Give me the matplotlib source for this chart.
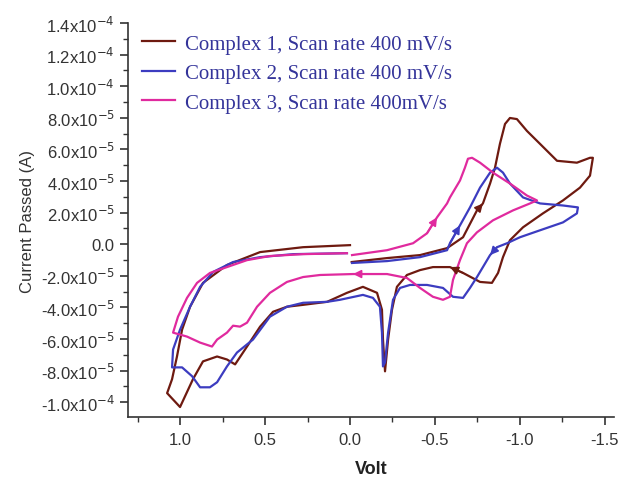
import matplotlib
matplotlib.use("Agg")
import matplotlib.pyplot as plt
from matplotlib.ticker import FuncFormatter, MultipleLocator

# Potential (V) and current (x1e-5 A)
volt_1 = [-0.01, -0.218, -0.412, -0.571, -0.665, -0.747, -0.782, -0.824, -0.853, -0.882,
          -0.912, -0.941, -0.982, -1.041, -1.118, -1.218, -1.335, -1.412, -1.429,
          -1.412, -1.353, -1.253, -1.135, -1.018, -0.941, -0.9, -0.871, -0.835, -0.765,
          -0.665, -0.588, -0.488, -0.412, -0.335, -0.276, -0.247, -0.224, -0.206, -0.194,
          -0.188, -0.159, -0.076, 0.018, 0.135, 0.276, 0.371, 0.453, 0.529, 0.606, 0.676,
          0.724, 0.782, 0.865, 0.924, 1.0, 1.076,
          1.047, 1.018, 0.988, 0.941, 0.865, 0.724, 0.529, 0.276, 0.0]
curr_1 = [-1.13, -0.88, -0.69, -0.25, 0.44, 2.14, 2.58, 3.84, 4.84, 6.35,
          7.61, 7.99, 7.92, 7.17, 6.35, 5.28, 5.16, 5.47, 5.47,
          4.34, 3.58, 2.77, 1.95, 1.07, 0.25, -0.82, -1.82, -2.45, -2.39,
          -1.82, -1.45, -1.45, -1.64, -1.95, -2.70, -4.15, -6.04, -8.05, -6.04,
          -4.15, -3.08, -2.70, -3.08, -3.65, -3.84, -3.96, -4.28, -5.22, -6.48, -7.61,
          -7.30, -7.11, -7.42, -8.55, -10.31, -9.43,
          -8.55, -7.11, -5.41, -3.96, -2.45, -1.32, -0.50, -0.19, -0.06]

volt_2 = [-0.012, -0.218, -0.412, -0.571, -0.588, -0.647, -0.706, -0.765, -0.824, -0.865,
          -0.9, -0.941, -1.018, -1.118, -1.253, -1.341,
          -1.335, -1.253, -1.118, -1.0, -0.924, -0.865, -0.824, -0.782, -0.747, -0.706,
          -0.665, -0.606, -0.547, -0.453, -0.353, -0.294, -0.253, -0.224, -0.206, -0.194,
          -0.188, -0.176, -0.135, -0.076, 0.059, 0.135, 0.276, 0.371, 0.471, 0.571,
          0.665, 0.724, 0.782, 0.824, 0.882, 0.929, 0.988, 1.047,
          1.041, 1.0, 0.941, 0.882, 0.806, 0.688, 0.529, 0.335, 0.018]
curr_2 = [-1.19, -1.07, -0.82, -0.38, 0.06, 1.19, 2.33, 3.58, 4.53, 4.84,
          4.53, 3.84, 2.96, 2.58, 2.45, 2.33,
          1.95, 1.38, 0.88, 0.44, 0.06, -0.19, -0.69, -1.45, -2.08, -2.77,
          -3.40, -3.33, -2.77, -2.58, -2.58, -2.77, -3.52, -5.60, -7.48, -7.74,
          -5.60, -3.96, -3.40, -3.21, -3.52, -3.65, -3.71, -3.96, -4.59, -6.04,
          -6.86, -7.74, -8.74, -9.06, -9.06, -8.36, -7.80, -7.80,
          -6.67, -5.41, -3.96, -2.70, -1.76, -1.13, -0.82, -0.63, -0.57]

volt_3 = [-0.012, -0.218, -0.371, -0.453, -0.512, -0.571, -0.588, -0.647, -0.676, -0.694,
          -0.718, -0.765, -0.841, -0.941, -1.041, -1.1,
          -1.059, -0.959, -0.841, -0.747, -0.688, -0.647, -0.606, -0.588, -0.547, -0.488,
          -0.412, -0.335, -0.218, -0.018, 0.176, 0.276, 0.371, 0.471, 0.547, 0.606,
          0.647, 0.688, 0.724, 0.782, 0.812, 0.882, 0.959, 1.041,
          1.012, 0.959, 0.9, 0.824, 0.724, 0.606, 0.471, 0.276, 0.018]
curr_3 = [-0.69, -0.38, 0.06, 0.69, 1.70, 2.58, 2.96, 4.03, 4.84, 5.41,
          5.47, 5.16, 4.53, 3.84, 3.08, 2.77,
          2.58, 2.14, 1.51, 0.75, 0.06, -1.01, -2.26, -3.33, -3.52, -3.33,
          -2.77, -2.14, -1.89, -1.89, -1.95, -2.08, -2.39, -3.08, -3.96, -4.97,
          -5.22, -5.16, -5.60, -6.04, -6.48, -6.23, -5.85, -5.60,
          -4.59, -3.40, -2.45, -1.82, -1.45, -1.01, -0.75, -0.63, -0.57]

labels = ["Complex 1, Scan rate 400 mV/s",
          "Complex 2, Scan rate 400 mV/s",
          "Complex 3, Scan rate 400mV/s"]
colors = ["#6e1a10", "#3c3cc0", "#e02a9e"]
# segment index (i -> i+1) where a direction arrow sits
arrow_idx = [[5, 29], [4, 21], [3, 28]]

plt.rcParams["font.family"] = ["Liberation Sans", "DejaVu Sans"]

fig = plt.figure(figsize=(6.23, 4.81), dpi=100)
ax = fig.add_axes([0.2055, 0.131, 0.78, 0.819])

series = [(volt_1, curr_1), (volt_2, curr_2), (volt_3, curr_3)]
for (v, c), lab, col, arr in zip(series, labels, colors, arrow_idx):
    amps = [x * 1e-5 for x in c]
    ax.plot(v, amps, color=col, lw=1.6, label=lab)
    for i in arr:
        ax.annotate("", xy=(v[i + 1], amps[i + 1]), xytext=(v[i], amps[i]),
                    arrowprops=dict(arrowstyle="-|>", color=col, lw=1.2,
                                    mutation_scale=12, shrinkA=0, shrinkB=0))

ax.set_xlim(1.306, -1.553)
ax.set_ylim(-1.094e-4, 1.4e-4)

ax.xaxis.set_major_locator(MultipleLocator(0.5))
ax.xaxis.set_minor_locator(MultipleLocator(0.25))
ax.yaxis.set_major_locator(MultipleLocator(2e-5))
ax.yaxis.set_minor_locator(MultipleLocator(1e-5))


def fmt_y(val, pos):
    if abs(val) < 1e-12:
        return "0.0"
    exp = 0
    m = val
    while abs(m) < 1:
        m *= 10
        exp -= 1
    return "%.1fx10$^{%d}$" % (m, exp)


ax.xaxis.set_major_formatter(FuncFormatter(lambda v, p: "%.1f" % v if abs(v) > 1e-9 else "0.0"))
ax.yaxis.set_major_formatter(FuncFormatter(fmt_y))

for s in ["top", "right"]:
    ax.spines[s].set_visible(False)
for s in ["left", "bottom"]:
    ax.spines[s].set_color("#333333")
    ax.spines[s].set_linewidth(1.2)

ax.tick_params(which="major", direction="out", length=6, width=1.2, colors="#333333",
               labelsize=12, labelcolor="#333333")
ax.tick_params(which="minor", direction="out", length=3.5, width=1.0, colors="#333333")
ax.tick_params(axis="x", pad=5)

ax.set_xlabel("Volt", fontsize=13, fontweight="bold", color="#222222", labelpad=9)
ax.set_ylabel("Current Passed (A)", fontsize=12, color="#333333", labelpad=4)

leg = ax.legend(loc="upper left", bbox_to_anchor=(-0.01, 1.02), frameon=False,
                handlelength=1.6, handletextpad=0.45, labelspacing=0.48,
                labelcolor="#34349a",
                prop={"family": ["Liberation Serif"], "size": 15})

plt.savefig("out.png", dpi=100)
